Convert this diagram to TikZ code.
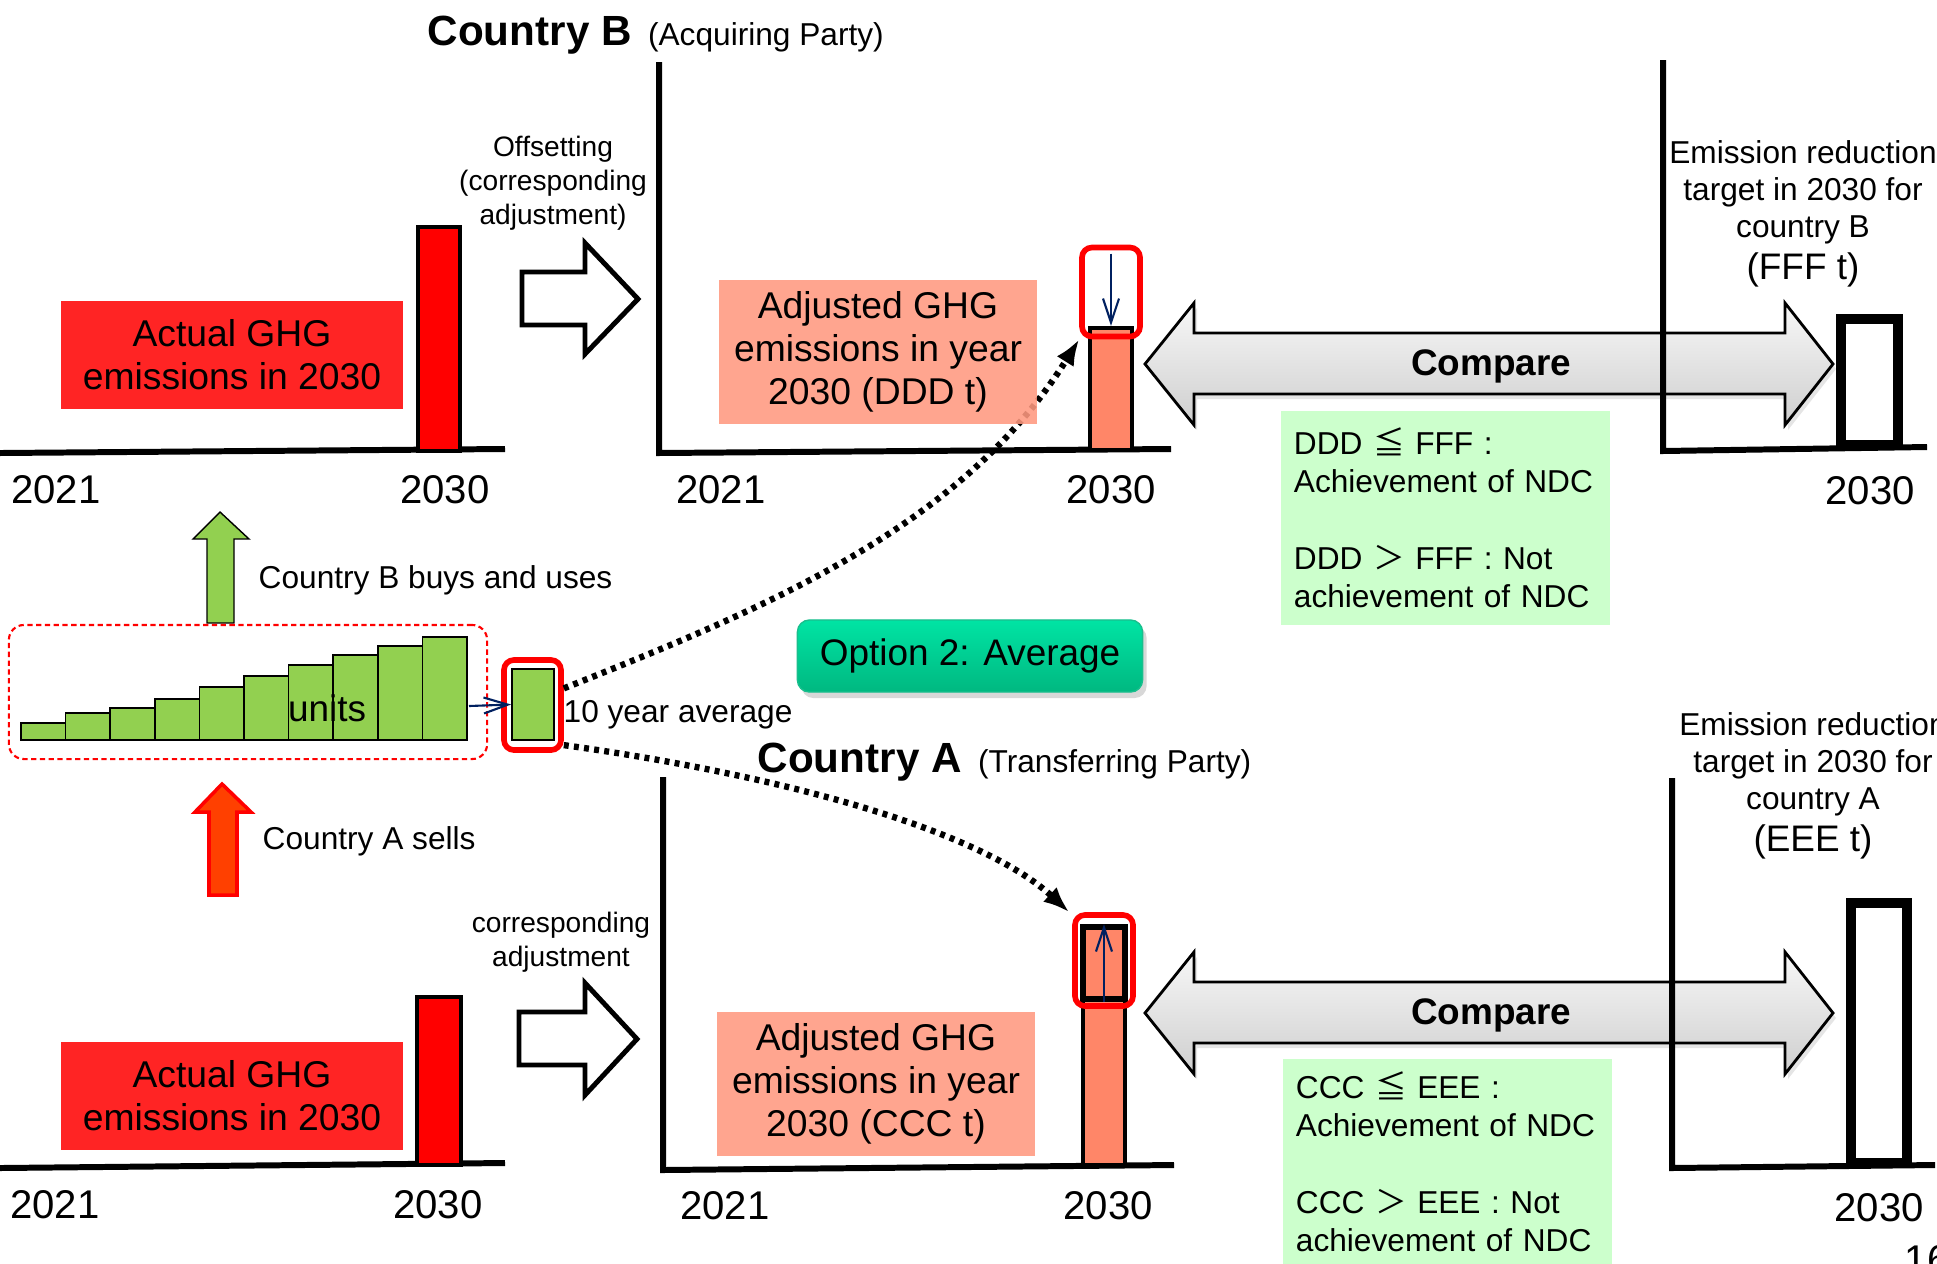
\documentclass[tikz,border=0pt]{standalone}
\usepackage{fontspec}
\setmainfont{Liberation Sans}
\newfontfamily\cjkfont{Noto Sans CJK JP}
\usetikzlibrary{positioning,arrows.meta,shadows}
\definecolor{ghgred}{RGB}{255,36,36}
\definecolor{barred}{RGB}{255,0,0}
\definecolor{adjsalmon}{RGB}{255,153,128}
\definecolor{barsalmon}{RGB}{255,134,104}
\definecolor{unitgreen}{RGB}{146,208,80}
\definecolor{condgreen}{RGB}{204,255,204}
\definecolor{navyline}{RGB}{0,32,96}
\definecolor{optiontop}{RGB}{0,228,164}
\definecolor{optionbot}{RGB}{0,184,128}
\definecolor{sellred}{RGB}{255,64,0}
\begin{document}
\begin{tikzpicture}[
  x=0.01cm, y=-0.01cm,
  ghg/.style={rectangle, fill=ghgred, minimum width=3.42cm, minimum height=1.07cm, align=center, font=\fontsize{10.6}{12.2}\selectfont},
  adj/.style={rectangle, fill=adjsalmon, fill opacity=0.88, text opacity=1, minimum width=3.17cm, minimum height=1.3cm, align=center, font=\fontsize{10.6}{12.2}\selectfont},
  year/.style={font=\fontsize{11.4}{13}\selectfont},
  note/.style={align=center, font=\fontsize{8}{9.7}\selectfont},
  side/.style={anchor=base west, inner sep=0pt, font=\fontsize{9}{11}\selectfont},
  ctitle/.style={anchor=base west, inner sep=0pt, font=\bfseries\fontsize{12}{14}\selectfont},
  party/.style={anchor=base west, inner sep=0pt, font=\fontsize{9}{11}\selectfont},
  target/.style={align=center, font=\fontsize{9}{10.5}\selectfont},
  cond/.style={rectangle, fill=condgreen, text width=3.03cm, inner xsep=0.13cm, align=left, font=\fontsize{9}{10.9}\selectfont},
  cmp/.style={font=\bfseries\fontsize{10.5}{12}\selectfont},
  axisline/.style={line width=1.7pt},
  redbar/.style={draw, line width=1.2pt, fill=barred},
  salbar/.style={rectangle, draw, line width=1.2pt, fill=barsalmon, minimum width=0.42cm, inner sep=0pt},
  sel/.style={rectangle, draw=barred, line width=1.6pt, rounded corners=0.1cm, minimum width=0.58cm, inner sep=0pt},
  goal/.style={draw, line width=3.1pt},
  hollow/.style={draw, line width=1.4pt, fill=white},
  block/.style={draw, line width=0.8pt, top color=gray!6, bottom color=gray!38, drop shadow={opacity=0.2, shadow xshift=0.03cm, shadow yshift=-0.05cm}},
  unitbar/.style={draw, line width=0.5pt, fill=unitgreen},
  nav/.style={-{Straight Barb[length=0.24cm,width=0.16cm]}, navyline, line width=0.6pt},
  dotarrow/.style={-{Latex[length=0.26cm,width=0.2cm]}, line width=1.8pt, dash pattern=on 1.4pt off 1.5pt}
]
\fill[white] (0,0) rectangle (1937,1263);
\useasboundingbox (0,0) rectangle (1937,1263);

% Country B
\node[ctitle] (titleB) at (427,45) {Country B};
\node[party, right=0.15cm of titleB.base east, anchor=base west] (partyB) {(Acquiring Party)};
\draw[axisline] (0,453) -- (505,449);
\draw[redbar] (418,227) rectangle (460,451);
\node[ghg] (ghgB) at (232,355) {Actual GHG\\emissions in 2030};
\node[note] (offB) at (553,183) {Offsetting\\(corresponding\\adjustment)};
\draw[hollow] (522,272) -- (585,272) -- (585,243) -- (638,299) -- (585,354) -- (585,325) -- (522,325) -- cycle;
\draw[axisline] (659,62) -- (659,453) -- (1171,449);
\node[salbar, minimum height=1.22cm] (barB) at (1111,389) {};
\node[sel, minimum height=0.89cm] (bsel) at (1111,292) {};
\draw[nav] ([yshift=-0.09cm]bsel.north) -- (barB.north);
\draw[block] (1145,364) -- (1194,303) -- (1194,333) -- (1785,333) -- (1785,303) -- (1833,364) -- (1785,425) -- (1785,394) -- (1194,394) -- (1194,425) -- cycle;
\node[cmp] (cmpB) at (1491,366) {Compare};
\draw[axisline] (1663,60) -- (1663,451) -- (1927,447);
\draw[goal] (1841,319) rectangle (1898,445);
\node[target] (tgtB) at (1803,214) {Emission reduction\\target in 2030 for\\country B\\[0.05cm]{\fontsize{10.5}{12}\selectfont(FFF t)}};
\node[cond, minimum height=2.14cm] (condB) at (1445.5,518) {DDD {\cjkfont ≦} FFF :\\Achievement of NDC\\[10.9pt]DDD {\cjkfont ＞} FFF : Not\\achievement of NDC};
\node[year] (b21l) at (56,490) {2021};
\node[year] (b30l) at (445,490) {2030};
\node[year] (b21m) at (721,490) {2021};
\node[year] (b30m) at (1111,490) {2030};
\node[year] (b30r) at (1870,491) {2030};

% units
\draw[fill=unitgreen] (220,512) -- (249,539) -- (234,539) -- (234,623) -- (207,623) -- (207,539) -- (193,539) -- cycle;
\node[side] (buyB) at (258,588) {Country B buys and uses};
\node[draw=barred, line width=0.6pt, dash pattern=on 1.5pt off 1pt, rounded corners=0.15cm, minimum width=4.78cm, minimum height=1.34cm] (unitbox) at (248,692) {};
\foreach \h [count=\i from 0] in {723,713,708,699,687,676,665,655,646,637}
  \draw[unitbar] ({21+44.6*\i},740) rectangle ({21+44.6*(\i+1)},\h);
\node[font=\fontsize{10.5}{12}\selectfont, anchor=base] (unitlbl) at (327,721) {units};
\node[rectangle, draw, line width=0.5pt, fill=unitgreen, minimum width=0.42cm, minimum height=0.71cm, inner sep=0pt] (avgbar) at (533,704.5) {};
\node[sel, minimum width=0.57cm, minimum height=0.9cm] (avgsel) at (532.5,705) {};
\coordinate (unitend) at (469,706);
\draw[nav] (unitend) -- (avgbar.west);
\node[side] (avg10) at (563,722) {10 year average};
\draw[fill=sellred, draw=barred, line width=1pt] (222,784) -- (251,812) -- (237,812) -- (237,895) -- (209,895) -- (209,812) -- (195,812) -- cycle;
\node[side] (sellA) at (262,849) {Country A sells};
\node[rectangle, rounded corners=0.12cm, top color=optiontop, bottom color=optionbot, draw=optionbot!90, drop shadow={opacity=0.3, shadow xshift=0.04cm, shadow yshift=-0.06cm}, minimum width=3.45cm, minimum height=0.72cm, font=\fontsize{10.5}{12}\selectfont] (opt) at (970,656) {Option 2: Average};

% Country A
\node[ctitle] (titleA) at (757,772) {Country A};
\node[party, right=0.15cm of titleA.base east, anchor=base west] (partyA) {(Transferring Party)};
\draw[axisline] (0,1168) -- (505,1163);
\draw[redbar] (417,997) rectangle (461,1165);
\node[ghg] (ghgA) at (232,1096) {Actual GHG\\emissions in 2030};
\node[note] (offA) at (561,942) {corresponding\\adjustment};
\draw[hollow] (519,1012) -- (585,1012) -- (585,983) -- (637,1039) -- (585,1095) -- (585,1065) -- (519,1065) -- cycle;
\draw[axisline] (663,777) -- (663,1170) -- (1174,1165);
\node[salbar, minimum height=2.38cm] (barA) at (1104,1046) {};
\node[rectangle, draw, line width=1.6pt, minimum width=0.42cm, minimum height=0.72cm, inner sep=0pt] (addA) at (1104,963) {};
\node[sel, minimum height=0.91cm] (asel) at (1104,960.5) {};
\draw[nav] (addA.south) -- (addA.north);
\draw[block] (1145,1013) -- (1194,952) -- (1194,982) -- (1785,982) -- (1785,952) -- (1833,1013) -- (1785,1074) -- (1785,1043) -- (1194,1043) -- (1194,1074) -- cycle;
\node[cmp] (cmpA) at (1491,1015) {Compare};
\draw[axisline] (1672,778) -- (1672,1168) -- (1935,1165);
\draw[goal] (1851,903) rectangle (1907,1163);
\node[target] (tgtA) at (1813,786) {Emission reduction\\target in 2030 for\\country A\\[0.05cm]{\fontsize{10.5}{12}\selectfont(EEE t)}};
\node[cond, minimum height=2.06cm] (condA) at (1447.5,1162) {CCC {\cjkfont ≦} EEE :\\Achievement of NDC\\[10.9pt]CCC {\cjkfont ＞} EEE : Not\\achievement of NDC};
\node[year] (a21l) at (55,1205) {2021};
\node[year] (a30l) at (438,1205) {2030};
\node[year] (a21m) at (725,1206) {2021};
\node[year] (a30m) at (1108,1206) {2030};
\node[year] (a30r) at (1879,1208) {2030};

\draw[dotarrow] (avgsel.28) .. controls (760,610) and (960,530) .. (bsel.south west);
\draw[dotarrow] (avgsel.-52) .. controls (780,775) and (980,830) .. ([xshift=-0.03cm]asel.north west);
\node[adj] (adjB) at (878,352) {Adjusted GHG\\emissions in year\\2030 (DDD t)};
\node[adj] (adjA) at (876,1084) {Adjusted GHG\\emissions in year\\2030 (CCC t)};
\node[year, anchor=north west, inner sep=0pt] (pageno) at (1904,1245) {16};
\end{tikzpicture}
\end{document}
